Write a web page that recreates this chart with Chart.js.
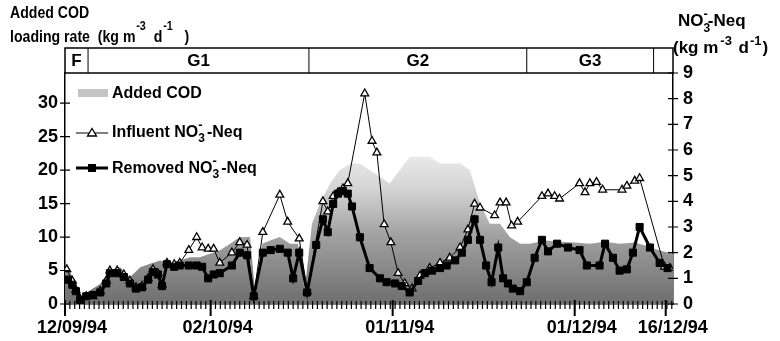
<!DOCTYPE html>
<html>
<head>
<meta charset="utf-8">
<script src="https://cdn.jsdelivr.net/npm/chart.js@4.4.0/dist/chart.umd.min.js"></script>
<style>
  html, body { margin: 0; padding: 0; background: #fff; }
</style>
</head>
<body>
<canvas id="chart" width="780" height="341"></canvas>
<script>
// x = position on the date axis in days (0 = 12/09/94, axis is stretched at the start)
const tickPos = [0, 24, 54, 84, 99];
const tickLabels = ['12/09/94', '02/10/94', '01/11/94', '01/12/94', '16/12/94'];
const phaseEdges = [0, 3.8, 40.2, 76.1, 97.0, 100.2];
const phaseLabels = ['F', 'G1', 'G2', 'G3', ''];
const leftTicks = [0, 5, 10, 15, 20, 25, 30];
const rightTicks = [0, 1, 2, 3, 4, 5, 6, 7, 8, 9];

// Added COD loading rate (left axis)
const codDays = [0, 0.8, 1.6, 2.5, 4.1, 5.8, 7.4, 9.1, 10.7, 12.4, 14.0, 15.7, 17.3, 18.9, 20.6, 22.2, 23.9, 25.5, 27.2, 28.8,
  30.5, 31.3, 32.5, 33.8, 35.4, 37.1, 38.4, 39.5, 40.7, 42.0, 43.7, 45.3, 47.0, 48.6, 50.2, 51.9, 53.5, 55.2, 56.8, 58.5,
  60.1, 61.8, 63.4, 65.1, 66.7, 68.4, 70.0, 71.7, 73.3, 75.0, 76.6, 79.1, 81.5, 84.0, 86.5, 88.9, 91.4, 93.9, 96.4, 98.0, 100.2];
const codLoad = [6, 5, 3, 1, 2, 3, 5, 5.5, 4, 5.5, 6, 6.5, 6, 6.5, 7, 7, 7.5, 8, 9, 10,
  10, 2, 9, 9.5, 10, 9, 9, 2, 12, 15, 18, 20, 21, 21, 20, 19, 18, 20, 22, 22,
  22, 21, 21, 21, 20, 15, 12, 12, 10, 9, 9, 9.5, 9.3, 9.2, 9.0, 9.3, 9.0, 9.2, 8.5, 8.0, 7.5];

// Influent NO3- -Neq (right axis)
const inflDays = [0.3, 1.2, 1.8, 2.5, 3.5, 4.6, 5.8, 6.8, 7.4, 8.6, 9.7, 10.7, 11.7, 12.7, 13.7, 14.5, 15.3, 16.0, 16.8, 18.0,
  18.9, 20.4, 21.7, 22.6, 23.6, 24.5, 25.5, 27.5, 28.8, 30.0, 31.1, 32.6, 35.4, 36.7, 38.6, 39.9, 42.5, 43.3, 44.2, 45.0,
  45.8, 46.6, 49.4, 50.6, 51.4, 52.6, 53.7, 54.9, 56.0, 57.2, 58.5, 60.1, 61.8, 63.4, 65.1, 66.4, 67.5, 68.4, 70.8, 71.7,
  72.7, 73.6, 74.6, 78.6, 79.6, 80.7, 81.5, 84.8, 85.7, 86.5, 87.6, 88.6, 91.8, 92.6, 93.9, 94.7, 98.8, 99.7];
const inflNO3 = [1.35, 0.9, 0.55, 0.2, 0.3, 0.3, 0.5, 0.9, 1.3, 1.3, 1.15, 0.9, 0.65, 0.7, 1.0, 1.35, 1.2, 0.75, 1.6, 1.55,
  1.6, 2.1, 2.6, 2.2, 2.15, 2.15, 1.6, 2.0, 2.4, 2.3, 0.3, 2.8, 4.25, 3.2, 2.55, 0.5, 4.0, 3.6, 4.2, 4.35,
  4.5, 4.7, 8.2, 6.35, 5.9, 3.1, 2.4, 1.2, 0.8, 0.6, 1.1, 1.4, 1.6, 1.8, 2.2, 2.9, 3.9, 3.75, 3.45, 3.95,
  3.95, 3.05, 3.2, 4.2, 4.3, 4.2, 4.1, 4.7, 4.35, 4.7, 4.75, 4.45, 4.45, 4.6, 4.8, 4.9, 1.45, 1.4];

// Removed NO3- -Neq (right axis)
const remDays = [0.5, 1.2, 1.8, 2.5, 3.5, 4.6, 5.8, 6.8, 7.4, 8.6, 9.7, 10.7, 11.7, 12.7, 13.7, 14.5, 15.3, 16.0, 16.8, 18.0,
  18.9, 20.4, 21.7, 22.6, 23.6, 24.5, 25.5, 27.5, 28.8, 30.0, 31.1, 32.6, 33.9, 35.4, 36.7, 37.6, 38.6, 39.9, 41.4, 42.5,
  43.3, 44.2, 45.0, 45.8, 46.6, 47.3, 48.6, 50.2, 51.9, 53.0, 54.4, 55.5, 56.8, 58.2, 59.3, 60.5, 61.8, 62.9, 64.3, 65.4,
  66.4, 67.5, 68.4, 69.4, 70.3, 71.4, 72.2, 73.0, 73.8, 75.0, 76.1, 77.4, 78.6, 79.6, 81.1, 82.9, 84.8, 86.0, 88.1, 89.0,
  90.3, 91.4, 92.6, 93.6, 94.7, 96.4, 98.0, 99.3];
const remNO3 = [0.95, 0.75, 0.5, 0.15, 0.3, 0.35, 0.45, 0.8, 1.2, 1.2, 1.05, 0.8, 0.6, 0.65, 0.95, 1.25, 1.15, 0.7, 1.55, 1.45,
  1.5, 1.5, 1.5, 1.45, 1.0, 1.15, 1.2, 1.5, 2.0, 1.9, 0.3, 2.0, 2.1, 2.15, 2.0, 1.0, 2.0, 0.45, 2.3, 3.3,
  2.8, 3.9, 4.3, 4.4, 4.3, 3.8, 2.6, 1.4, 1.0, 0.85, 0.8, 0.7, 0.45, 0.9, 1.2, 1.3, 1.4, 1.5, 1.7, 2.0,
  2.5, 3.3, 2.5, 1.5, 0.85, 2.2, 1.0, 0.8, 0.6, 0.5, 0.85, 1.8, 2.5, 2.05, 2.35, 2.2, 2.1, 1.5, 1.5, 2.35,
  1.8, 1.3, 1.35, 2.0, 3.0, 2.2, 1.6, 1.4];

const FONT = '"Liberation Sans", Arial, sans-serif';
const toXY = (xs, ys) => xs.map((x, i) => ({ x: x, y: ys[i] }));

function codFill(c) {
  const area = c.chart.chartArea;
  if (!area) return '#aaa';
  const g = c.chart.ctx.createLinearGradient(0, area.bottom, 0, area.top);
  g.addColorStop(0, '#6e6e6e');
  g.addColorStop(0.3, '#a2a2a2');
  g.addColorStop(0.5, '#d4d4d4');
  g.addColorStop(0.68, '#efefef');
  g.addColorStop(1, '#f8f8f8');
  return g;
}

// draws a run of text parts; parts with keep:true do not move the pen
function rich(ctx, x, y, parts) {
  parts.forEach(p => {
    ctx.font = 'bold ' + (p.s || 16) + 'px ' + FONT;
    ctx.fillText(p.t, x + (p.dx || 0), y + (p.dy || 0));
    if (!p.keep) x += ctx.measureText(p.t).width + (p.dx || 0);
  });
}

const decor = {
  id: 'decor',
  afterDraw(chart) {
    const ctx = chart.ctx;
    const xs = chart.scales.x, yl = chart.scales.yL, yr = chart.scales.yR;
    const a = chart.chartArea;
    ctx.save();
    ctx.strokeStyle = '#000';
    ctx.fillStyle = '#000';

    // phase band above plot
    const bandTop = 48;
    ctx.lineWidth = 1.5;
    ctx.strokeRect(a.left, bandTop, a.right - a.left, a.top - bandTop);
    ctx.textAlign = 'center';
    ctx.textBaseline = 'middle';
    ctx.font = 'bold 17px ' + FONT;
    for (let i = 0; i < phaseLabels.length; i++) {
      const x0 = xs.getPixelForValue(phaseEdges[i]);
      const x1 = xs.getPixelForValue(phaseEdges[i + 1]);
      if (i > 0) {
        ctx.lineWidth = 1;
        ctx.beginPath(); ctx.moveTo(x0, bandTop); ctx.lineTo(x0, a.top); ctx.stroke();
      }
      ctx.fillText(phaseLabels[i], (x0 + x1) / 2, (bandTop + a.top) / 2 + 1);
    }

    // tick marks crossing the axes
    ctx.lineWidth = 1.2;
    ctx.beginPath();
    leftTicks.forEach(v => { const y = yl.getPixelForValue(v); ctx.moveTo(a.left - 5, y); ctx.lineTo(a.left + 5, y); });
    rightTicks.forEach(v => { const y = yr.getPixelForValue(v); ctx.moveTo(a.right - 5, y); ctx.lineTo(a.right + 5, y); });
    for (let v = 0.8; v < 100; v += 0.8) {
      const x = xs.getPixelForValue(v);
      ctx.moveTo(x, a.bottom - 3); ctx.lineTo(x, a.bottom + 5);
    }
    ctx.stroke();
    ctx.lineWidth = 2;
    ctx.beginPath();
    tickPos.forEach(v => { const x = xs.getPixelForValue(v); ctx.moveTo(x, a.bottom - 4); ctx.lineTo(x, a.bottom + 12); });
    ctx.stroke();

    // axis titles
    ctx.textAlign = 'left';
    ctx.textBaseline = 'alphabetic';
    ctx.save();
    ctx.translate(10, 0);
    ctx.scale(0.83, 1);
    rich(ctx, 0, 18, [{ t: 'Added COD', s: 17 }]);
    rich(ctx, 0, 42, [{ t: 'loading rate  (kg m', s: 17 }, { t: '-3', s: 13, dy: -12, dx: 1 },
      { t: '  d', s: 17 }, { t: '-1', s: 13, dy: -12, dx: 1 }, { t: '   )', s: 17 }]);
    ctx.restore();
    rich(ctx, 678, 26, [{ t: 'NO', s: 17 }, { t: '3', s: 12, dy: 6, keep: true }, { t: '-', s: 13, dy: -8 },
      { t: '-Neq', s: 17 }]);
    rich(ctx, 673, 53, [{ t: '(kg m', s: 17 }, { t: '-3', s: 13, dy: -8, dx: 2 },
      { t: ' d', s: 17, dx: 2 }, { t: '-1', s: 13, dy: -8, dx: 1 }, { t: ')', s: 17, dx: 1 }]);

    // legend inside plot
    ctx.fillStyle = '#c4c4c4';
    ctx.fillRect(78, 89, 30, 8);
    ctx.fillStyle = '#000';
    ctx.lineWidth = 1;
    ctx.beginPath(); ctx.moveTo(76, 133); ctx.lineTo(108, 133); ctx.stroke();
    ctx.fillStyle = '#fff';
    ctx.lineWidth = 1.3;
    ctx.beginPath(); ctx.moveTo(92, 128.5); ctx.lineTo(96.5, 136); ctx.lineTo(87.5, 136); ctx.closePath();
    ctx.fill(); ctx.stroke();
    ctx.fillStyle = '#000';
    ctx.lineWidth = 3;
    ctx.beginPath(); ctx.moveTo(76, 168); ctx.lineTo(108, 168); ctx.stroke();
    ctx.fillRect(88, 164, 8, 8);
    rich(ctx, 112, 98, [{ t: 'Added COD' }]);
    rich(ctx, 112, 137, [{ t: 'Influent NO' }, { t: '3', s: 12, dy: 5, keep: true }, { t: '-', s: 13, dy: -8 }, { t: ' -Neq' }]);
    rich(ctx, 112, 173, [{ t: 'Removed NO' }, { t: '3', s: 12, dy: 5, keep: true }, { t: '-', s: 13, dy: -8 }, { t: ' -Neq' }]);
    ctx.restore();
  }
};

Chart.defaults.font.family = FONT;
Chart.defaults.font.weight = 'bold';
Chart.defaults.color = '#000';

new Chart(document.getElementById('chart').getContext('2d'), {
  type: 'line',
  data: {
    datasets: [
      {
        label: 'Added COD', data: toXY(codDays, codLoad), yAxisID: 'yL',
        fill: 'origin', backgroundColor: codFill, borderWidth: 0, pointRadius: 0, order: 3
      },
      {
        label: 'Influent NO3- -Neq', data: toXY(inflDays, inflNO3), yAxisID: 'yR',
        borderColor: '#000', borderWidth: 1, fill: false,
        pointStyle: 'triangle', pointRadius: 4.5, pointBackgroundColor: '#fff',
        pointBorderColor: '#000', pointBorderWidth: 1.3, order: 2
      },
      {
        label: 'Removed NO3- -Neq', data: toXY(remDays, remNO3), yAxisID: 'yR',
        borderColor: '#000', borderWidth: 3, fill: false,
        pointStyle: 'rect', pointRadius: 5, pointBackgroundColor: '#000',
        pointBorderColor: '#000', pointBorderWidth: 1, order: 1
      }
    ]
  },
  options: {
    responsive: false,
    animation: false,
    layout: { padding: { top: 73, left: 0, right: 0, bottom: 0 } },
    elements: { line: { tension: 0 } },
    plugins: { legend: { display: false }, tooltip: { enabled: false } },
    scales: {
      x: {
        type: 'linear', min: 0, max: 100.2,
        grid: { display: false, drawTicks: false },
        border: { display: true, color: '#000', width: 1.5 },
        afterBuildTicks: s => { s.ticks = tickPos.map(v => ({ value: v })); },
        afterFit: s => { s.height = 37; },
        ticks: {
          autoSkip: false, maxRotation: 0, padding: 13, labelOffset: 7,
          font: { size: 18, weight: 'bold' },
          callback: (v, i) => tickLabels[i]
        }
      },
      yL: {
        position: 'left', min: 0, max: 34.5,
        grid: { display: false, drawTicks: false },
        border: { display: true, color: '#000', width: 1.5 },
        afterBuildTicks: s => { s.ticks = leftTicks.map(v => ({ value: v })); },
        afterFit: s => { s.width = 65; },
        ticks: { padding: 7, font: { size: 18, weight: 'bold' } }
      },
      yR: {
        position: 'right', min: 0, max: 9,
        grid: { display: false, drawTicks: false },
        border: { display: true, color: '#000', width: 1.5 },
        afterBuildTicks: s => { s.ticks = rightTicks.map(v => ({ value: v })); },
        afterFit: s => { s.width = 107; },
        ticks: { padding: 10, font: { size: 18, weight: 'bold' } }
      }
    }
  },
  plugins: [decor]
});
</script>
</body>
</html>
